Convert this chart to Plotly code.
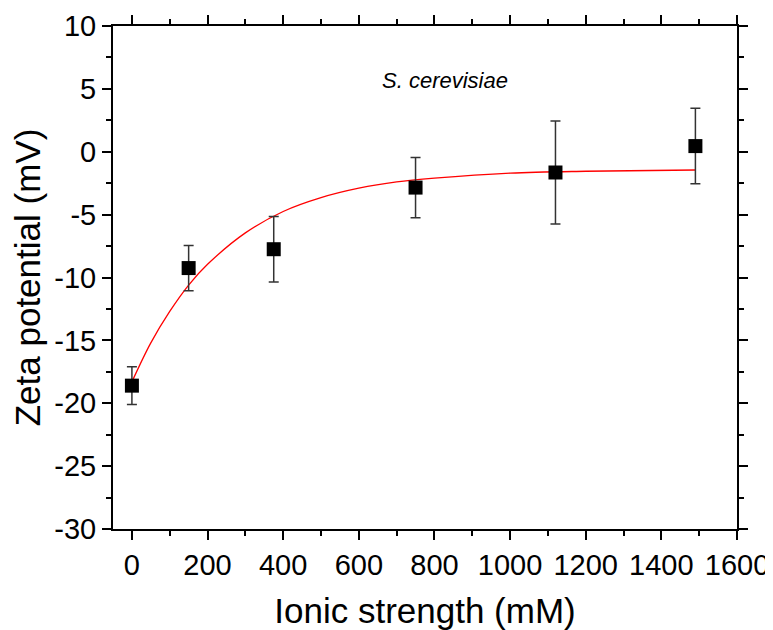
import plotly.graph_objects as go

# measured points
ionic = [0, 150, 375, 750, 1120, 1490]
zeta = [-18.6, -9.25, -7.75, -2.85, -1.65, 0.45]
zeta_err = [1.5, 1.8, 2.6, 2.4, 4.1, 3.0]

# fitted curve
fit_x = [0, 50, 100, 150, 200, 300, 400, 500, 600, 700, 800, 1000, 1200, 1490]
fit_y = [-18.3, -15.2, -12.7, -10.6, -8.95, -6.45, -4.75, -3.65, -2.9, -2.4, -2.1, -1.7, -1.55, -1.45]

x_ticks = [0, 200, 400, 600, 800, 1000, 1200, 1400, 1600]
y_ticks = [10, 5, 0, -5, -10, -15, -20, -25, -30]
y_labels = ["10", "5", "0", "-5", "-10", "-15", "-20", "-25", "-30"]

font_main = "Liberation Sans, Arial, sans-serif"

fig = go.Figure()

fig.add_trace(go.Scatter(x=fit_x, y=fit_y, mode="lines",
                         line=dict(color="#ff0000", width=1.3, shape="spline"),
                         showlegend=False))

fig.add_trace(go.Scatter(x=ionic, y=zeta, mode="markers",
                         marker=dict(symbol="square", size=14, color="black"),
                         error_y=dict(type="data", array=zeta_err, visible=True,
                                      color="#333333", thickness=1.5, width=5),
                         showlegend=False))

fig.add_annotation(x=827, y=5.7, xref="x", yref="y", text="<i>S. cerevisiae</i>",
                   showarrow=False, font=dict(family=font_main, size=22, color="black"))

axis_common = dict(showline=True, linecolor="black", linewidth=2, mirror="allticks",
                   ticks="outside", ticklen=9, tickwidth=2, tickcolor="black",
                   showgrid=False, zeroline=False, automargin=False,
                   tickfont=dict(family=font_main, size=29, color="black"))

fig.update_xaxes(range=[-50, 1600], tickvals=x_ticks, ticktext=[str(v) for v in x_ticks],
                 minor=dict(dtick=100, tick0=0, ticks="outside", ticklen=5, tickwidth=2, tickcolor="black"),
                 title=dict(text="Ionic strength (mM)", font=dict(family=font_main, size=35, color="black"), standoff=19),
                 **axis_common)
fig.update_yaxes(range=[-30, 10], tickvals=y_ticks, ticktext=y_labels,
                 minor=dict(dtick=2.5, tick0=0, ticks="outside", ticklen=5, tickwidth=2, tickcolor="black"),
                 title=dict(text="Zeta potential (mV)", font=dict(family=font_main, size=35, color="black"), standoff=8),
                 **axis_common)

# page body has an 8px margin, so the figure is sized/offset to compensate
fig.update_layout(width=765, height=622, margin=dict(l=105, r=36, t=18, b=101),
                  plot_bgcolor="white", paper_bgcolor="white")

fig.write_html("out.html")
